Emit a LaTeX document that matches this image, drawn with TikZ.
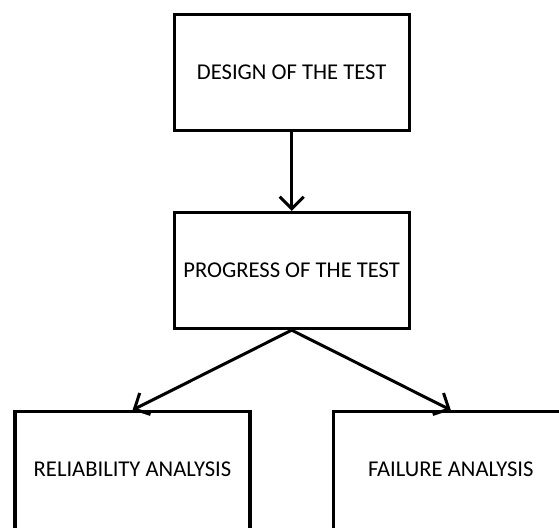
\documentclass[tikz,border=0pt]{standalone}
\usepackage{fontspec}
\setmainfont{Carlito}
\usetikzlibrary{arrows.meta}
\begin{document}
\begin{tikzpicture}[x=1pt,y=-1pt,
  box/.style={draw, line width=3.3pt, minimum width=235pt, minimum height=116pt, inner sep=0pt, font=\fontsize{22.6}{26}\selectfont},
  lowbox/.style={draw, line width=3.3pt, minimum height=130pt, inner sep=0pt},
  label/.style={inner sep=0pt, font=\fontsize{22.6}{26}\selectfont},
  conn/.style={line width=3pt, -{Straight Barb[length=12pt,width=24pt,line width=3pt]}}]
\useasboundingbox (0,0) rectangle (559,527);
\clip (0,0) rectangle (559,527);
\node[box] (design) at (291.7,72.5) {DESIGN OF THE TEST};
\node[box] (progress) at (291.7,270.5) {PROGRESS OF THE TEST};
\node[lowbox, minimum width=235pt] (reliab) at (132.5,476.7) {};
\node[lowbox, minimum width=280pt] (failure) at (473.7,476.7) {};
\node[label] (reliabtext) at (132.5,469.6) {RELIABILITY ANALYSIS};
\node[label] (failtext) at (450.8,469.6) {FAILURE ANALYSIS};
\draw[conn] (design) -- (progress);
\draw[conn] (progress.south) -- (reliab.north);
\draw[conn] (progress.south) -- (failtext |- failure.north);
\end{tikzpicture}
\end{document}
